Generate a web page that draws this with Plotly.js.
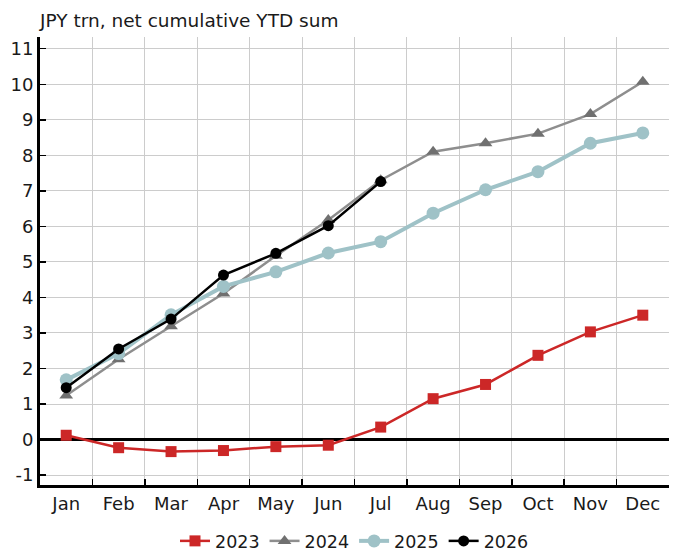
<!DOCTYPE html>
<html>
<head>
<meta charset="utf-8">
<script src="https://cdn.plot.ly/plotly-3.0.1.min.js"></script>
<style>
  html, body { margin: 0; padding: 0; background: #fff; }
  #chart { width: 675px; height: 556px; }
</style>
</head>
<body>
<div id="chart"></div>
<script>
// months on the x axis
var months = ["Jan", "Feb", "Mar", "Apr", "May", "Jun", "Jul", "Aug", "Sep", "Oct", "Nov", "Dec"];

// JPY trn, net cumulative YTD sum
var y2023 = [0.12, -0.23, -0.34, -0.31, -0.2, -0.16, 0.35, 1.15, 1.55, 2.37, 3.03, 3.5];
var y2024 = [1.24, 2.26, 3.19, 4.11, 5.17, 6.18, 7.3, 8.1, 8.34, 8.61, 9.16, 10.07];
var y2025 = [1.68, 2.42, 3.51, 4.31, 4.72, 5.25, 5.57, 6.37, 7.03, 7.54, 8.34, 8.63];
var y2026 = [1.46, 2.55, 3.39, 4.63, 5.24, 6.02, 7.26];

var yTicks = [-1, 0, 1, 2, 3, 4, 5, 6, 7, 8, 9, 10, 11];

var FONT = "DejaVu Sans, Verdana, sans-serif";

var t2023 = {
  x: months, y: y2023, name: "2023", type: "scatter", mode: "lines+markers",
  line: { color: "#cc2727", width: 2.5 },
  marker: { symbol: "square", size: 11, color: "#cc2727" }
};
var t2024 = {
  x: months, y: y2024, name: "2024", type: "scatter", mode: "lines+markers",
  line: { color: "#8e8e8e", width: 2.5 },
  marker: { symbol: "triangle-up", size: 12, color: "#707070" }
};
var t2025 = {
  x: months, y: y2025, name: "2025", type: "scatter", mode: "lines+markers",
  line: { color: "#9fc2c7", width: 4 },
  marker: { symbol: "circle", size: 13, color: "#9fc2c7" }
};
var t2026 = {
  x: months.slice(0, y2026.length), y: y2026, name: "2026", type: "scatter", mode: "lines+markers",
  line: { color: "#000000", width: 2.5 },
  marker: { symbol: "circle", size: 11, color: "#000000" }
};

var layout = {
  width: 675,
  height: 556,
  margin: { l: 40, r: 6, t: 37, b: 71, autoexpand: false },
  paper_bgcolor: "#ffffff",
  plot_bgcolor: "#ffffff",
  font: { family: FONT, size: 17, color: "#1a1a1a" },
  showlegend: true,
  legend: {
    orientation: "h",
    x: 0.5, xanchor: "center",
    y: -0.125, yanchor: "middle",
    font: { family: FONT, size: 17.5, color: "#1a1a1a" },
    traceorder: "normal"
  },
  annotations: [{
    text: "JPY trn, net cumulative YTD sum",
    xref: "paper", yref: "paper",
    x: -0.005, y: 1.0, xanchor: "left", yanchor: "bottom",
    yshift: 4,
    showarrow: false,
    font: { family: FONT, size: 18.5, color: "#1a1a1a" }
  }],
  xaxis: {
    type: "category",
    range: [-0.5, 11.5],
    tickson: "boundaries",
    showgrid: true,
    gridcolor: "#cccccc",
    gridwidth: 1,
    ticks: "inside",
    ticklen: 6,
    tickwidth: 1.5,
    tickcolor: "#000",
    showline: true,
    linecolor: "#000",
    linewidth: 3,
    zeroline: false,
    tickfont: { family: FONT, size: 18, color: "#1a1a1a" }
  },
  yaxis: {
    range: [-1.28, 11.33],
    tickvals: yTicks,
    ticktext: yTicks.map(String),
    showgrid: true,
    gridcolor: "#cccccc",
    gridwidth: 1,
    ticks: "inside",
    ticklen: 6,
    tickwidth: 1.5,
    tickcolor: "#000",
    showline: true,
    linecolor: "#000",
    linewidth: 3,
    zeroline: true,
    zerolinecolor: "#000",
    zerolinewidth: 3,
    tickfont: { family: FONT, size: 18, color: "#1a1a1a" }
  }
};

Plotly.newPlot("chart", [t2023, t2024, t2025, t2026], layout, { displayModeBar: false, staticPlot: true });
</script>
</body>
</html>
